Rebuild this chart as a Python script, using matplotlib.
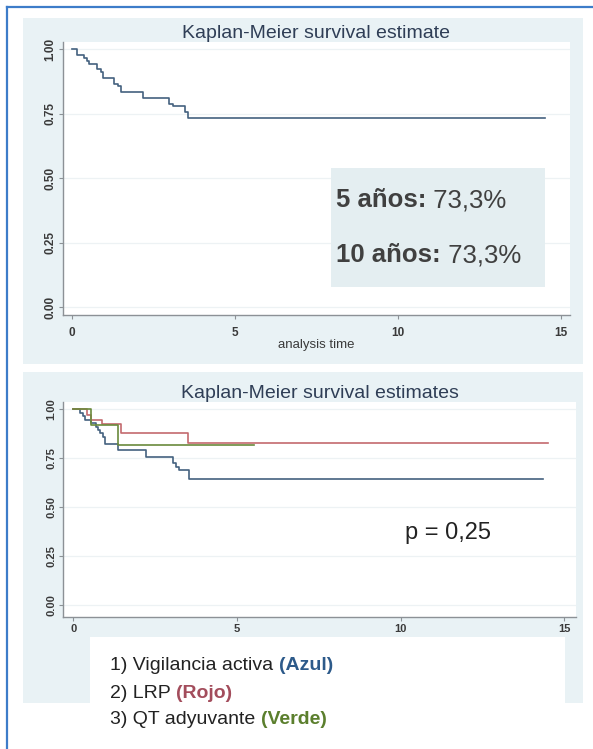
import matplotlib.pyplot as plt
from matplotlib.patches import Rectangle

W, H = 593, 749

# overall survival (single group)
km_time = [0, 0.16, 0.35, 0.45, 0.53, 0.76, 0.88, 0.94, 1.27, 1.40, 1.50, 2.19, 2.98, 3.10, 3.45, 3.55, 14.5]
km_surv = [1.0, 0.978, 0.967, 0.956, 0.944, 0.922, 0.911, 0.889, 0.867, 0.856, 0.833, 0.811, 0.789, 0.778, 0.756, 0.733, 0.733]

# survival by treatment group
blue_time = [0, 0.22, 0.29, 0.36, 0.56, 0.69, 0.76, 0.81, 0.91, 0.96, 1.37, 2.23, 3.04, 3.14, 3.22, 3.55, 14.34]
blue_surv = [1.0, 0.983, 0.966, 0.945, 0.928, 0.911, 0.894, 0.877, 0.86, 0.821, 0.792, 0.758, 0.727, 0.707, 0.69, 0.643, 0.643]
red_time = [0, 0.41, 0.56, 0.89, 1.47, 3.50, 14.49]
red_surv = [1.0, 0.971, 0.943, 0.923, 0.88, 0.829, 0.829]
green_time = [0, 0.56, 1.37, 5.52]
green_surv = [1.0, 0.917, 0.818, 0.818]

yticks = [0, 0.25, 0.5, 0.75, 1.0]
ytick_labels = ['0.00', '0.25', '0.50', '0.75', '1.00']
xticks = [0, 5, 10, 15]

summary_lines = [('5 años:', ' 73,3%'), ('10 años:', ' 73,3%')]
p_text = 'p = 0,25'
groups = [('1) Vigilancia activa ', '(Azul)', '#2d5a8a'),
          ('2) LRP ', '(Rojo)', '#a34d5c'),
          ('3) QT adyuvante ', '(Verde)', '#5b7f2d')]

C_BLUE = '#44617f'
C_RED = '#c36a6e'
C_GREEN = '#6a8a3c'
PANEL = '#e9f2f5'

plt.rcParams['font.family'] = ['Liberation Sans', 'DejaVu Sans']

fig = plt.figure(figsize=(W / 100, H / 100), dpi=100)


def px_rect(x0, y0, x1, y1):
    return [x0 / W, 1 - y1 / H, (x1 - x0) / W, (y1 - y0) / H]


def add_fig_rect(x0, y0, x1, y1, color, z):
    l, b, w, h = px_rect(x0, y0, x1, y1)
    fig.add_artist(Rectangle((l, b), w, h, transform=fig.transFigure,
                             facecolor=color, edgecolor='none', zorder=z))


# panel backgrounds and frame
add_fig_rect(23, 18, 583, 364, PANEL, -2)
add_fig_rect(23, 372, 583, 703, PANEL, -2)
fig.add_artist(plt.Line2D([7 / W, 7 / W], [0, 1 - 7 / H], transform=fig.transFigure,
                          color='#3d7cc9', lw=1.6, zorder=10))
fig.add_artist(plt.Line2D([7 / W, 1], [1 - 7 / H, 1 - 7 / H], transform=fig.transFigure,
                          color='#3d7cc9', lw=1.6, zorder=10))


def style_axes(ax, xlim, ylim, tick_fs):
    ax.set_facecolor('white')
    ax.set_xlim(*xlim)
    ax.set_ylim(*ylim)
    for s in ['top', 'right']:
        ax.spines[s].set_visible(False)
    for s in ['left', 'bottom']:
        ax.spines[s].set_color('#8c9196')
        ax.spines[s].set_linewidth(1.0)
    ax.set_yticks(yticks)
    ax.set_yticklabels(ytick_labels, rotation=90, va='center')
    ax.set_xticks(xticks)
    ax.tick_params(colors='#8c9196', labelcolor='#3a3a3a', labelsize=tick_fs,
                   length=3, width=0.8, direction='out', pad=2)
    for lab in ax.get_xticklabels() + ax.get_yticklabels():
        lab.set_fontweight('bold')
    ax.grid(axis='y', color='#edf2f4', lw=0.9)
    ax.set_axisbelow(True)


# top chart: overall survival
ax1 = fig.add_axes(px_rect(63, 42, 570, 315))
style_axes(ax1, (-0.28, 15.28), (-0.031, 1.028), 8.5)
ax1.tick_params(axis='x', pad=6)
ax1.step(km_time, km_surv, where='post', color=C_BLUE, lw=1.2)
ax1.set_title('Kaplan-Meier survival estimate', fontsize=14, color='#2f3e56', pad=2)
ax1.set_xlabel('analysis time', fontsize=9.5, color='#3a3a3a', labelpad=0)

ax1.add_patch(Rectangle((7.94, 0.078), 6.56, 0.461, facecolor='#e4eef1',
                        edgecolor='none', zorder=3))
for (bold, rest), y in zip(summary_lines, [0.415, 0.2]):
    t = ax1.text(8.1, y, bold, fontsize=18.5, fontweight='bold', color='#404040',
                 va='center', ha='left', zorder=4)
    ax1.annotate(rest, xy=(1, 0), xycoords=t, va='bottom', ha='left',
                 fontsize=18.5, color='#404040', zorder=4)

# bottom chart: survival by group
ax2 = fig.add_axes(px_rect(63, 402, 576, 617))
style_axes(ax2, (-0.31, 15.36), (-0.061, 1.037), 8)
ax2.step(blue_time, blue_surv, where='post', color=C_BLUE, lw=1.2)
ax2.step(red_time, red_surv, where='post', color=C_RED, lw=1.2)
ax2.step(green_time, green_surv, where='post', color=C_GREEN, lw=1.2)
ax2.set_title('Kaplan-Meier survival estimates', fontsize=14, color='#2f3e56', pad=0)
ax2.set_xlabel('analysis time', fontsize=9.5, color='#3a3a3a', labelpad=2)
ax2.text(10.15, 0.37, p_text, fontsize=17, color='#222222', va='center', ha='left')

# group key box laid over the lower panel
add_fig_rect(90, 637, 565, 749, 'white', 5)
for (plain, colored, col), y in zip(groups, [665, 693, 720]):
    t = fig.text(110 / W, 1 - y / H, plain, fontsize=14, color='#222222',
                 va='center', ha='left', zorder=6)
    a = plt.annotate(colored, xy=(1, 0), xycoords=t, va='bottom', ha='left',
                     fontsize=14, fontweight='bold', color=col, zorder=6,
                     annotation_clip=False)
    a.remove()
    fig.add_artist(a)

fig.savefig('out.png', dpi=100)
